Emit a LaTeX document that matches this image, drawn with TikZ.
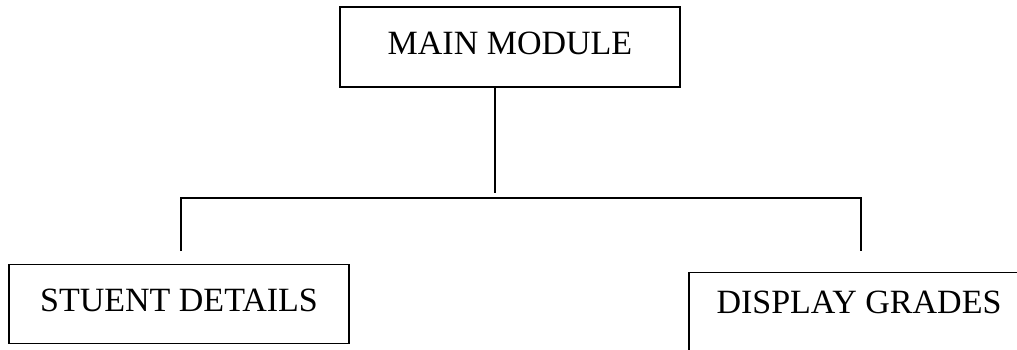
\documentclass[tikz,border=0pt]{standalone}
\usepackage{fontspec}
\setmainfont{Liberation Serif}
\usepackage{tikz}
\usetikzlibrary{positioning}
\tikzset{
  modbox/.style={draw, line width=1.6pt, minimum width=340pt, minimum height=79pt,
    inner sep=0pt, text depth=8pt, font=\fontsize{34}{40}\selectfont},
  link/.style={line width=1.6pt}
}

\begin{document}
\begin{tikzpicture}[line join=miter,x=1pt,y=1pt]
        \useasboundingbox (0,0) rectangle (1017,349);
        \node [modbox, minimum height=80pt] (main) at (510,302) {MAIN MODULE};
        \node [modbox] (student) at (179,45) {STUENT DETAILS};
        \node [modbox, text depth=19pt] (grades) at (859,37) {DISPLAY GRADES};
        \coordinate (stem) at (495,156);
        \coordinate (busL) at (181,151);
        \coordinate (busR) at (861,151);
        \coordinate (dropL) at (181,98);
        \coordinate (dropR) at (861,98);
        \draw [link] (main.south -| stem) -- (stem);
        \draw [link] (dropL) -- (busL) -- (busR) -- (dropR);
\end{tikzpicture}
\end{document}
